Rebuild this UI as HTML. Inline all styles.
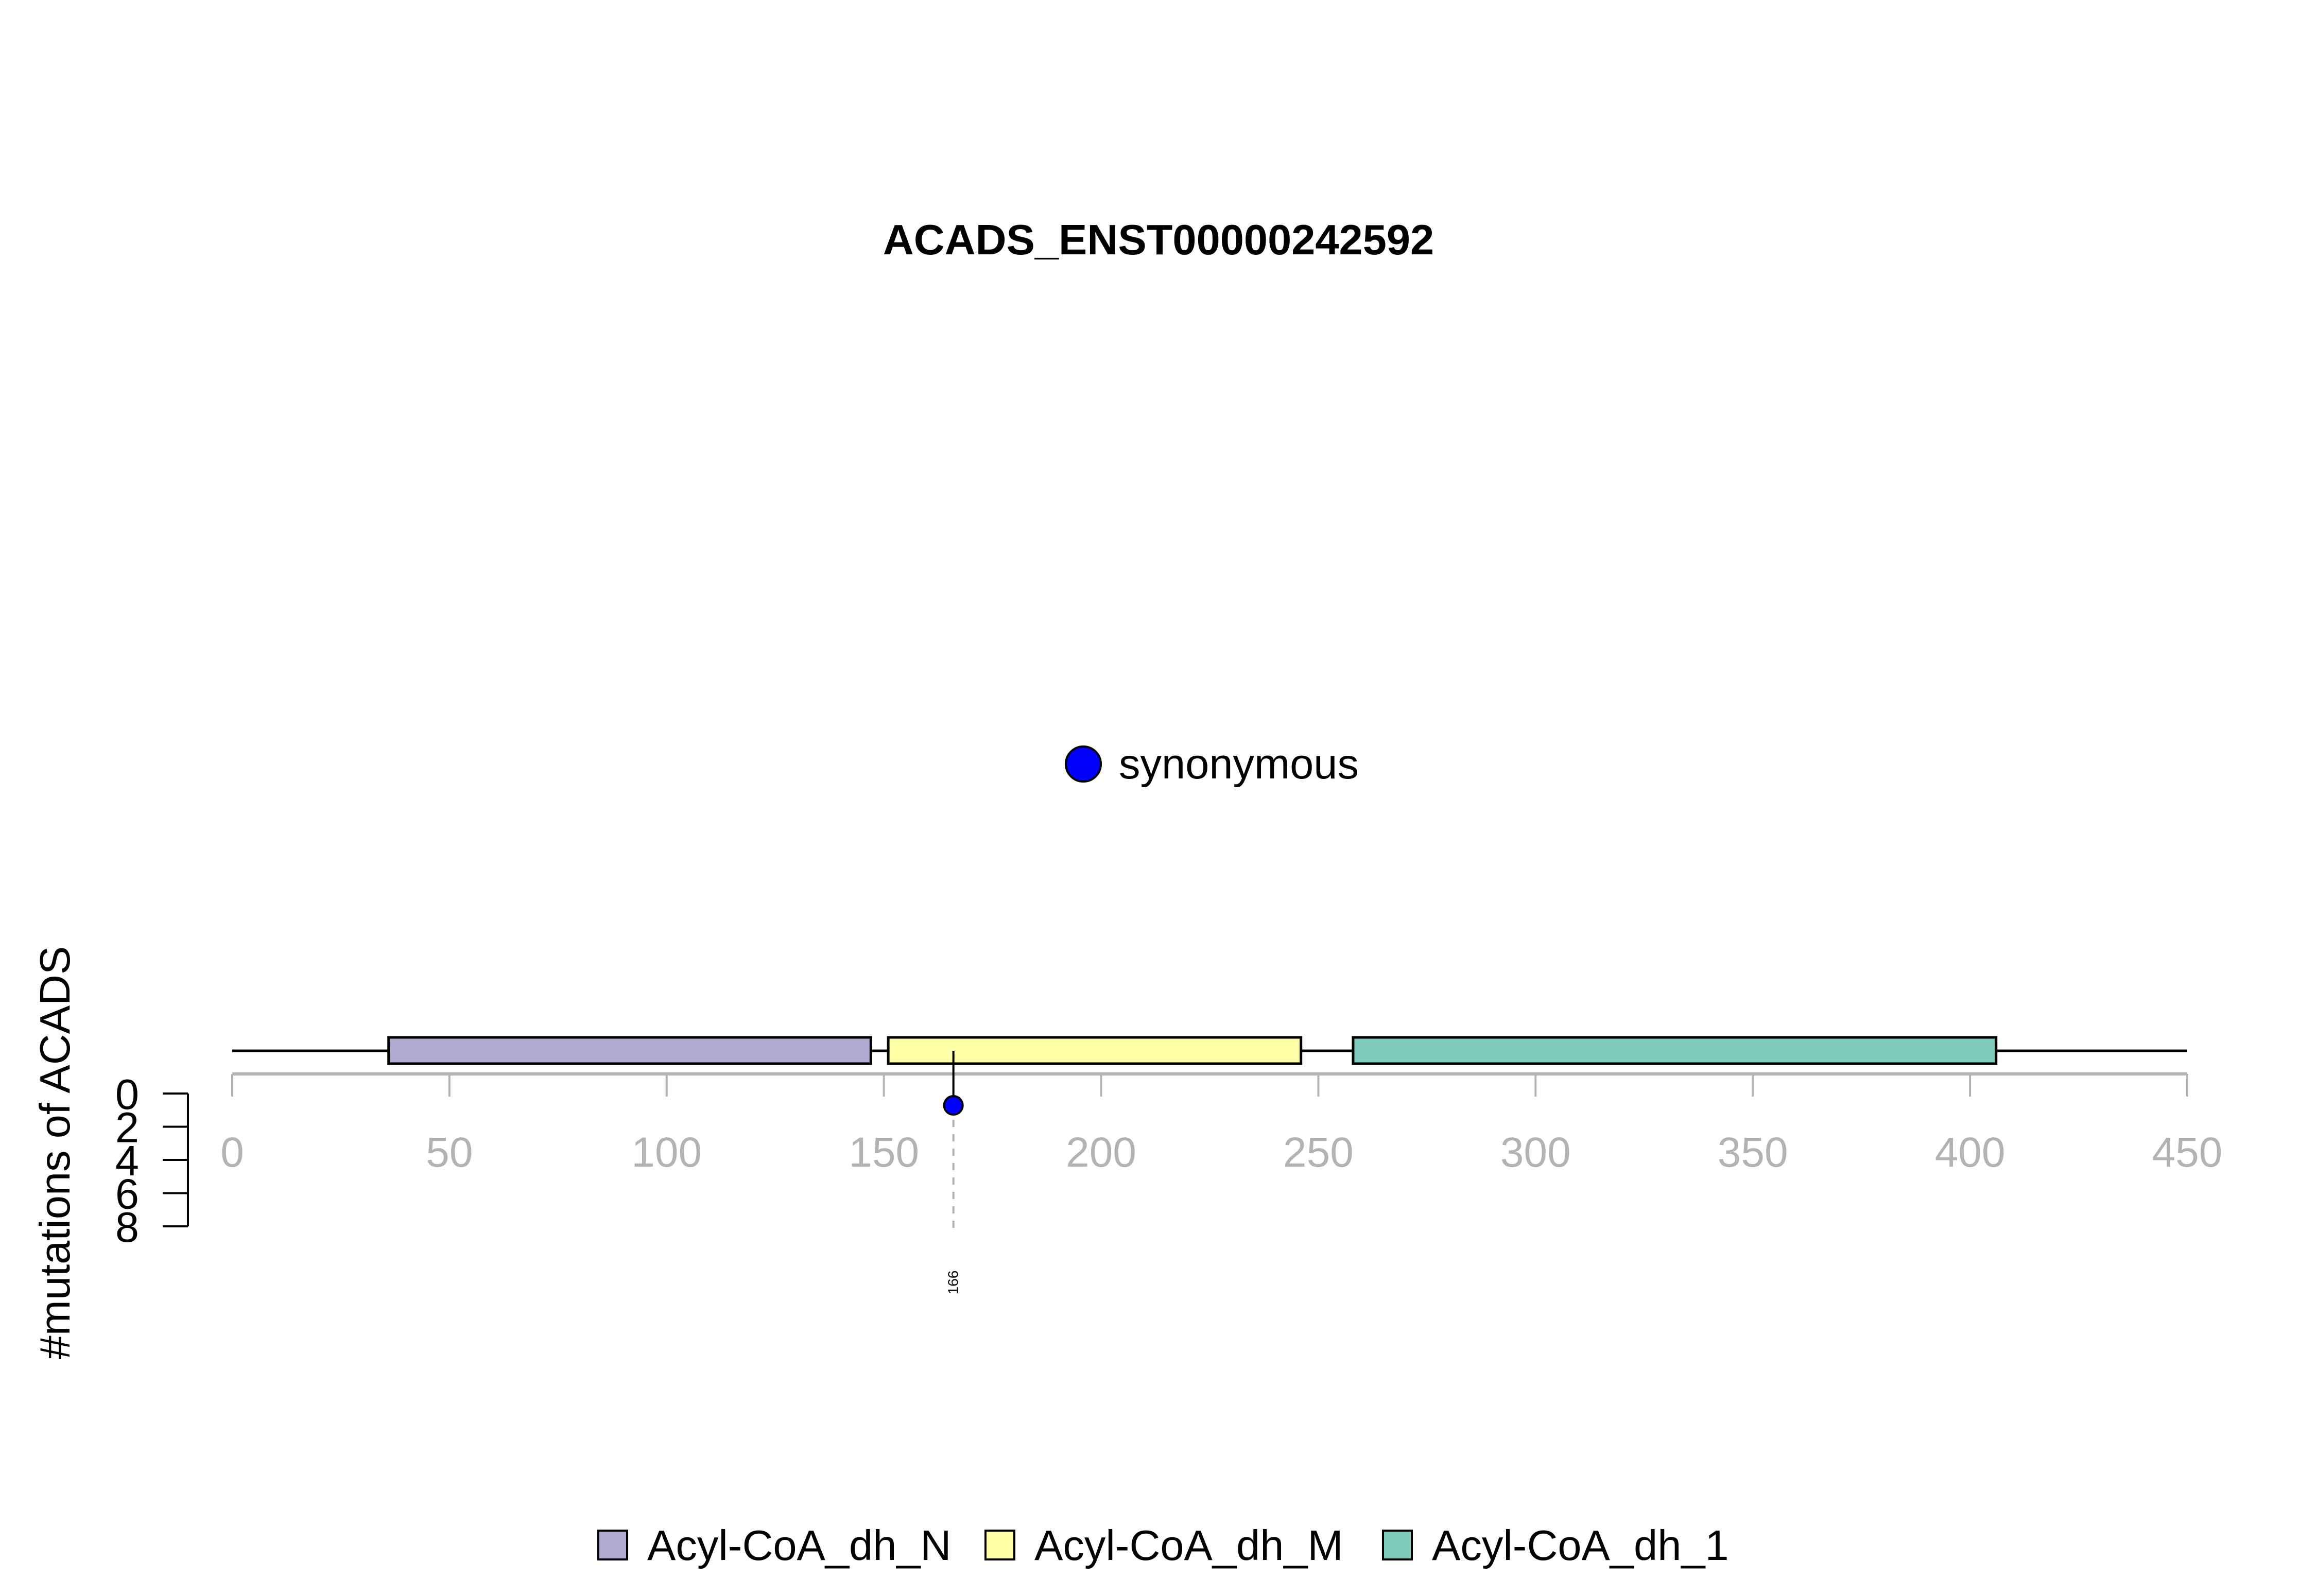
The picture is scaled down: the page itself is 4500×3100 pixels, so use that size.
<!DOCTYPE html>
<html><head><meta charset="utf-8"><style>
html,body{margin:0;padding:0;background:#fff;}
svg{display:block;font-family:"Liberation Sans",sans-serif;}
</style></head><body>
<svg id="chart" width="4500" height="3100" viewBox="0 0 4500 3100" xmlns="http://www.w3.org/2000/svg">
<text x="2250" y="494" font-size="83" font-weight="bold" text-anchor="middle">ACADS_ENST00000242592</text>
<g>
<circle cx="2104" cy="1484" r="34" fill="#0000ff" stroke="#000" stroke-width="4"/>
<text x="2173" y="1512" font-size="83">synonymous</text>
</g>
<text transform="translate(135,2239) rotate(-90)" font-size="83" text-anchor="middle">#mutations of ACADS</text>
<g id="xaxis"></g>
<g id="yaxis"></g>
<g id="protein"></g>
<g id="muts"></g>
<g id="legend"></g>
</svg>
<script>
const xTicks = [0,50,100,150,200,250,300,350,400,450];
const yTicks = [0,2,4,6,8];
const proteinLength = 450;
const domainNames = ["Acyl-CoA_dh_N","Acyl-CoA_dh_M","Acyl-CoA_dh_1"];
const domainStarts = [36,151,258];
const domainEnds = [147,246,406];
const domainColors = ["#b0aad0","#ffffa8","#80cbbb"];
const mutPositions = [166];
const mutCounts = [1];
const mutLabels = ["166"];

const NS="http://www.w3.org/2000/svg";
const x = v => 451 + v*(4248-451)/450;
const y = v => 2124 + v*(2382-2124)/8;
function mk(tag, attrs, parent){const e=document.createElementNS(NS,tag);for(const k in attrs)e.setAttribute(k,attrs[k]);parent.appendChild(e);return e;}

const xa=document.getElementById('xaxis');
let l=mk('line',{x1:x(0),x2:x(450),y1:2086,y2:2086,stroke:'#b3b3b3','stroke-width':6},xa);


xTicks.forEach(t=>{
  const tl=mk('line',{x1:x(t),x2:x(t),y1:2086,y2:2130,stroke:'#b3b3b3','stroke-width':4},xa);
  
  
  const tx=mk('text',{x:x(t),y:2266,'font-size':82,fill:'#b3b3b3','text-anchor':'middle'},xa);
  tx.textContent=t;
  
  
});

const ya=document.getElementById('yaxis');
l=mk('line',{x1:365,x2:365,y1:y(0),y2:y(8),stroke:'#000','stroke-width':4},ya);


yTicks.forEach(t=>{
  const tl=mk('line',{x1:316,x2:365,y1:y(t),y2:y(t),stroke:'#000','stroke-width':4},ya);
  
  
  const tx=mk('text',{x:270,y:y(t)+30,'font-size':83,'text-anchor':'end'},ya);
  tx.textContent=t;
  
  
});

const pr=document.getElementById('protein');
l=mk('line',{x1:x(0),x2:x(proteinLength),y1:2041,y2:2041,stroke:'#000','stroke-width':5},pr);


domainNames.forEach((n,i)=>{
  const r=mk('rect',{x:x(domainStarts[i]),y:2015,width:x(domainEnds[i])-x(domainStarts[i]),height:51,fill:domainColors[i],stroke:'#000','stroke-width':5},pr);
  
  
});

const mu=document.getElementById('muts');
mutPositions.forEach((p,i)=>{
  const cy=2147+(mutCounts[i]-1)*(y(1)-y(0));
  const s=mk('line',{x1:x(p),x2:x(p),y1:2041,y2:cy,stroke:'#000','stroke-width':4},mu);
  
  
  const d=mk('line',{x1:x(p),x2:x(p),y1:cy,y2:2396,stroke:'#b3b3b3','stroke-width':4,'stroke-dasharray':'14 14'},mu);
  
  
  const c=mk('circle',{cx:x(p),cy:cy,r:18,fill:'#0000ff',stroke:'#000','stroke-width':4},mu);
  
  
  const t=mk('text',{transform:`translate(${x(p)+9},2491) rotate(-90)`,'font-size':28,'text-anchor':'middle'},mu);
  t.textContent=mutLabels[i];
  
  
});

const lg=document.getElementById('legend');
const sqX=[1162,1914,2686];
domainNames.forEach((n,i)=>{
  const r=mk('rect',{x:sqX[i],y:2973,width:56,height:56,fill:domainColors[i],stroke:'#000','stroke-width':4},lg);
  
  
  const t=mk('text',{x:sqX[i]+95,y:3030,'font-size':83},lg);
  t.textContent=n;
  
  
});
</script>
</body></html>
